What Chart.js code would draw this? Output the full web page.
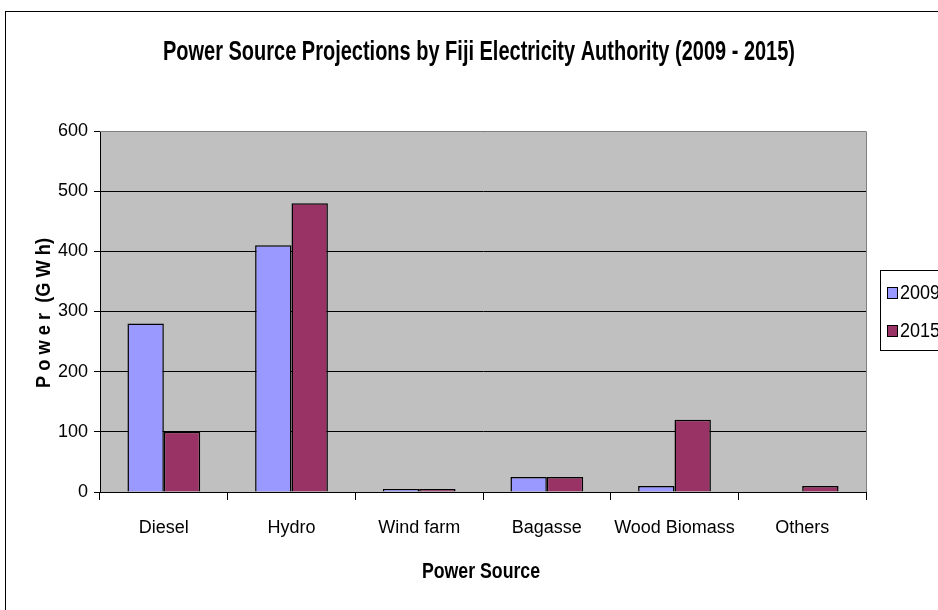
<!DOCTYPE html>
<html><head><meta charset="utf-8">
<script src="https://cdn.jsdelivr.net/npm/chart.js@4.4.1/dist/chart.umd.min.js"></script>
<style>html,body{margin:0;padding:0;background:#fff;overflow:hidden}#wrap{width:938px;height:610px;position:relative}</style>
</head><body><div id="wrap"><canvas id="c" width="938" height="610"></canvas></div>
<script>
const categories = ["Diesel", "Hydro", "Wind farm", "Bagasse", "Wood Biomass", "Others"];
const seriesNames = ["2009", "2015"];
const values2009 = [280, 410, 5, 25, 10, 0];
const values2015 = [100, 480, 5, 25, 120, 10];
const yTicks = [0, 100, 200, 300, 400, 500, 600];
const chartTitle = "Power Source Projections by Fiji Electricity Authority (2009 - 2015)";
const xTitle = "Power Source";
const yTitle = "P o w e r  (G W h)";
const colors = ["#9999FF", "#993366"];
const FONT = "'Liberation Sans', Arial, sans-serif";

function condensedText(ctx, text, x, y, font, width, rot) {
  ctx.save();
  ctx.font = font;
  ctx.fillStyle = '#000';
  ctx.textAlign = 'center';
  ctx.textBaseline = 'middle';
  ctx.translate(x, y);
  if (rot) ctx.rotate(rot);
  const w = ctx.measureText(text).width;
  ctx.scale(width / w, 1);
  ctx.fillText(text, 0, 0);
  ctx.restore();
}

const frame = {
  id: 'frame',
  beforeDraw(chart) {
    const {ctx, chartArea: a} = chart;
    ctx.save();
    ctx.fillStyle = '#C0C0C0';
    ctx.fillRect(a.left, a.top, a.right - a.left, a.bottom - a.top);
    ctx.restore();
  },
  afterDraw(chart) {
    const {ctx, chartArea: a} = chart;
    ctx.save();
    ctx.strokeStyle = '#808080';
    ctx.lineWidth = 1;
    ctx.beginPath();
    ctx.moveTo(a.left, a.top + 0.5); ctx.lineTo(a.right + 0.5, a.top + 0.5); ctx.lineTo(a.right + 0.5, a.bottom);
    ctx.stroke();
    ctx.strokeStyle = '#000';
    ctx.strokeRect(5.5, 11.5, 1000, 1000);
    condensedText(ctx, chartTitle, 479, 52, "bold 28px " + FONT, 632, 0);
    condensedText(ctx, xTitle, 481, 572, "bold 22px " + FONT, 118, 0);
    condensedText(ctx, yTitle, 44, 313, "bold 21px " + FONT, 150, -Math.PI / 2);
    ctx.strokeStyle = '#000';
    ctx.strokeRect(880.5, 270.5, 100, 80);
    chart.data.datasets.forEach((ds, i) => {
      const sy = 287 + i * 38;
      ctx.fillStyle = ds.backgroundColor;
      ctx.fillRect(887, sy, 10, 11);
      ctx.strokeRect(887.5, sy + 0.5, 10, 11);
      ctx.save();
      ctx.font = "20px " + FONT;
      ctx.fillStyle = '#000';
      ctx.textBaseline = 'middle';
      ctx.textAlign = 'left';
      ctx.translate(900, sy + 6);
      ctx.scale(0.9, 1);
      ctx.fillText(ds.label, 0, 0);
      ctx.restore();
    });
    ctx.restore();
  }
};

new Chart(document.getElementById('c'), {
  type: 'bar',
  data: {
    labels: categories,
    datasets: [
      {label: seriesNames[0], data: values2009, backgroundColor: colors[0], borderColor: '#000', borderWidth: 1.5},
      {label: seriesNames[1], data: values2015, backgroundColor: colors[1], borderColor: '#000', borderWidth: 1.5}
    ]
  },
  options: {
    responsive: false,
    animation: false,
    devicePixelRatio: 1,
    layout: {padding: {left: 5, right: 72, top: 131, bottom: 0}},
    datasets: {bar: {categoryPercentage: 0.57, barPercentage: 1}},
    plugins: {legend: {display: false}, tooltip: {enabled: false}, title: {display: false}},
    scales: {
      x: {
        afterFit(s) { s.height = 118; },
        grid: {display: true, drawOnChartArea: false, offset: true, tickLength: 8, color: '#000', lineWidth: 1},
        border: {color: '#000', width: 1},
        ticks: {color: '#000', font: {family: FONT, size: 18}, padding: 17, maxRotation: 0}
      },
      y: {
        min: 0, max: 600,
        afterFit(s) { s.width = 95; },
        afterBuildTicks(s) { s.ticks = yTicks.map(v => ({value: v})); },
        grid: {color: '#000', lineWidth: 1, tickLength: 6, drawTicks: true},
        border: {color: '#000', width: 1},
        ticks: {color: '#000', font: {family: FONT, size: 18}, padding: 6}
      }
    }
  },
  plugins: [frame]
});
</script>
</body></html>
